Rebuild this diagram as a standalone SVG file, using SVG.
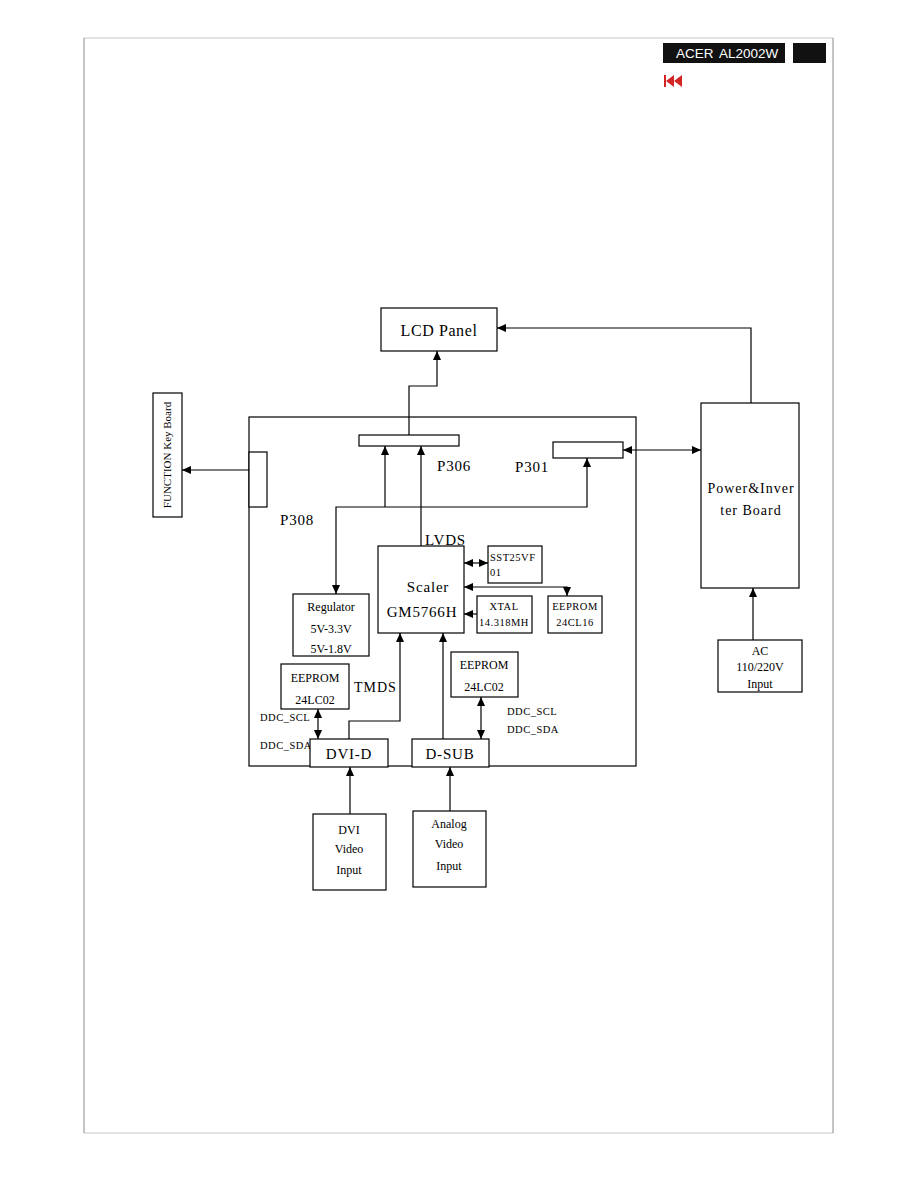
<svg xmlns="http://www.w3.org/2000/svg" width="918" height="1188" viewBox="0 0 918 1188">
<style>
.box{fill:#fff;stroke:#000;stroke-width:1.2}
.ln{fill:none;stroke:#000;stroke-width:1.2}
.t{font-family:"Liberation Serif",serif;fill:#000;text-anchor:middle}
.tl{font-family:"Liberation Serif",serif;fill:#000}
.s16{font-size:16px;letter-spacing:0.6px}
.s15{font-size:15px;letter-spacing:0.8px}
.s14{font-size:14px;letter-spacing:1px}
.s12{font-size:12px}
.s11{font-size:11px}
.s10{font-size:10.5px;letter-spacing:0.5px}
</style>
<defs>
<marker id="ah" markerUnits="userSpaceOnUse" markerWidth="9" markerHeight="8" refX="9" refY="4" orient="auto-start-reverse">
<path d="M0,0 L9,4 L0,8 z" fill="#000"/>
</marker>
</defs>
<rect x="0" y="0" width="918" height="1188" fill="#fff"/>
<g id="page">
<line x1="84" y1="38" x2="833" y2="38" stroke="#c8c8c8" stroke-width="1"/>
<line x1="84" y1="1133" x2="833" y2="1133" stroke="#c8c8c8" stroke-width="1"/>
<line x1="84" y1="38" x2="84" y2="1133" stroke="#8a8a8a" stroke-width="1"/>
<line x1="833" y1="38" x2="833" y2="1133" stroke="#8a8a8a" stroke-width="1"/>
</g>
<g id="header">
<rect x="663" y="43" width="122" height="20" fill="#111"/>
<text x="676" y="58" font-family="Liberation Sans,sans-serif" font-size="13.5" fill="#fff">ACER</text>
<text x="719" y="58" font-family="Liberation Sans,sans-serif" font-size="13.5" fill="#fff">AL2002W</text>
<rect x="793" y="43" width="33" height="20" fill="#111"/>
<rect x="664" y="75" width="2" height="12" fill="#d42525"/>
<polygon points="674,75 666,81 674,87" fill="#d42525"/>
<polygon points="682,75 674,81 682,87" fill="#d42525"/>
</g>
<g id="connectors">
<polyline class="ln" points="751,403 751,328 497,328" marker-end="url(#ah)"/>
<polyline class="ln" points="409,435 409,386 437,386 437,351" marker-end="url(#ah)"/>
<line class="ln" x1="249" y1="470" x2="182" y2="470" marker-end="url(#ah)"/>
<line class="ln" x1="623" y1="450" x2="701" y2="450" marker-start="url(#ah)" marker-end="url(#ah)"/>
<polyline class="ln" points="336,594 336,507 587,507 587,458" marker-start="url(#ah)" marker-end="url(#ah)"/>
<line class="ln" x1="385" y1="507" x2="385" y2="446" marker-end="url(#ah)"/>
<line class="ln" x1="421" y1="546" x2="421" y2="446" marker-end="url(#ah)"/>
<line class="ln" x1="464" y1="563" x2="488" y2="563" marker-start="url(#ah)" marker-end="url(#ah)"/>
<polyline class="ln" points="464,587 567,587 567,596" marker-start="url(#ah)" marker-end="url(#ah)"/>
<line class="ln" x1="477" y1="614" x2="464" y2="614" marker-end="url(#ah)"/>
<polyline class="ln" points="349,739 349,721 400,721 400,633" marker-end="url(#ah)"/>
<line class="ln" x1="443" y1="739" x2="443" y2="633" marker-end="url(#ah)"/>
<line class="ln" x1="318" y1="709" x2="318" y2="739" marker-start="url(#ah)" marker-end="url(#ah)"/>
<line class="ln" x1="481" y1="697" x2="481" y2="739" marker-start="url(#ah)" marker-end="url(#ah)"/>
<line class="ln" x1="350" y1="814" x2="350" y2="767" marker-end="url(#ah)"/>
<line class="ln" x1="450" y1="811" x2="450" y2="767" marker-end="url(#ah)"/>
<line class="ln" x1="753" y1="640" x2="753" y2="588" marker-end="url(#ah)"/>
</g>
<g id="mainboard">
<rect x="249" y="417" width="387" height="349" fill="none" stroke="#000" stroke-width="1.2"/>
</g>
<g id="lcd-panel">
<rect class="box" x="381" y="308" width="116" height="43"/>
<text class="t s16" x="439" y="336">LCD Panel</text>
</g>
<g id="function-key-board">
<rect class="box" x="153" y="393" width="29" height="124"/>
<text class="t s11" transform="translate(171,455) rotate(-90)">FUNCTION Key Board</text>
</g>
<g id="p308">
<rect class="box" x="249" y="452" width="18" height="55"/>
<text class="tl s15" x="280" y="525">P308</text>
</g>
<g id="p306">
<rect class="box" x="359" y="435" width="100" height="11"/>
<text class="tl s15" x="437" y="471">P306</text>
</g>
<g id="p301">
<rect class="box" x="553" y="442" width="70" height="16"/>
<text class="tl s15" x="515" y="472">P301</text>
</g>
<g id="power-inverter">
<rect class="box" x="701" y="403" width="98" height="185"/>
<text class="t s14" x="751" y="493">Power&amp;Inver</text>
<text class="t s14" x="751" y="515">ter Board</text>
</g>
<g id="lvds-label">
<text class="tl s15" x="425" y="545">LVDS</text>
</g>
<g id="scaler">
<rect class="box" x="378" y="546" width="86" height="87"/>
<text class="t s15" x="428" y="592">Scaler</text>
<text class="t s15" x="422" y="617">GM5766H</text>
</g>
<g id="regulator">
<rect class="box" x="293" y="594" width="76" height="62"/>
<text class="t s12" x="331" y="611">Regulator</text>
<text class="t s12" x="331" y="633">5V-3.3V</text>
<text class="t s12" x="331" y="653">5V-1.8V</text>
</g>
<g id="sst25vf01">
<rect class="box" x="488" y="546" width="54" height="37"/>
<text class="tl s10" x="490" y="561">SST25VF</text>
<text class="tl s10" x="490" y="576">01</text>
</g>
<g id="xtal">
<rect class="box" x="477" y="596" width="55" height="37"/>
<text class="t s10" x="504" y="610">XTAL</text>
<text class="t s10" x="504" y="626">14.318MH</text>
</g>
<g id="eeprom-24cl16">
<rect class="box" x="548" y="596" width="54" height="37"/>
<text class="t s10" x="575" y="610">EEPROM</text>
<text class="t s10" x="575" y="626">24CL16</text>
</g>
<g id="eeprom-dvi">
<rect class="box" x="281" y="664" width="68" height="45"/>
<text class="t s12" x="315" y="682">EEPROM</text>
<text class="t s12" x="315" y="704">24LC02</text>
</g>
<g id="tmds-label">
<text class="tl s14" x="354" y="692">TMDS</text>
</g>
<g id="eeprom-dsub">
<rect class="box" x="451" y="652" width="67" height="45"/>
<text class="t s12" x="484" y="669">EEPROM</text>
<text class="t s12" x="484" y="691">24LC02</text>
</g>
<g id="ddc-labels">
<text class="tl s10" x="260" y="721">DDC_SCL</text>
<text class="tl s10" x="260" y="749">DDC_SDA</text>
<text class="tl s10" x="507" y="715">DDC_SCL</text>
<text class="tl s10" x="507" y="733">DDC_SDA</text>
</g>
<g id="dvi-d">
<rect class="box" x="310" y="739" width="78" height="28"/>
<text class="t s15" x="349" y="759">DVI-D</text>
</g>
<g id="d-sub">
<rect class="box" x="412" y="739" width="77" height="28"/>
<text class="t s15" x="450" y="759">D-SUB</text>
</g>
<g id="dvi-input">
<rect class="box" x="313" y="814" width="73" height="76"/>
<text class="t s12" x="349" y="834">DVI</text>
<text class="t s12" x="349" y="853">Video</text>
<text class="t s12" x="349" y="874">Input</text>
</g>
<g id="analog-input">
<rect class="box" x="413" y="811" width="73" height="76"/>
<text class="t s12" x="449" y="828">Analog</text>
<text class="t s12" x="449" y="848">Video</text>
<text class="t s12" x="449" y="870">Input</text>
</g>
<g id="ac-input">
<rect class="box" x="718" y="640" width="84" height="52"/>
<text class="t s12" x="760" y="655">AC</text>
<text class="t s12" x="760" y="671">110/220V</text>
<text class="t s12" x="760" y="688">Input</text>
</g>
</svg>
